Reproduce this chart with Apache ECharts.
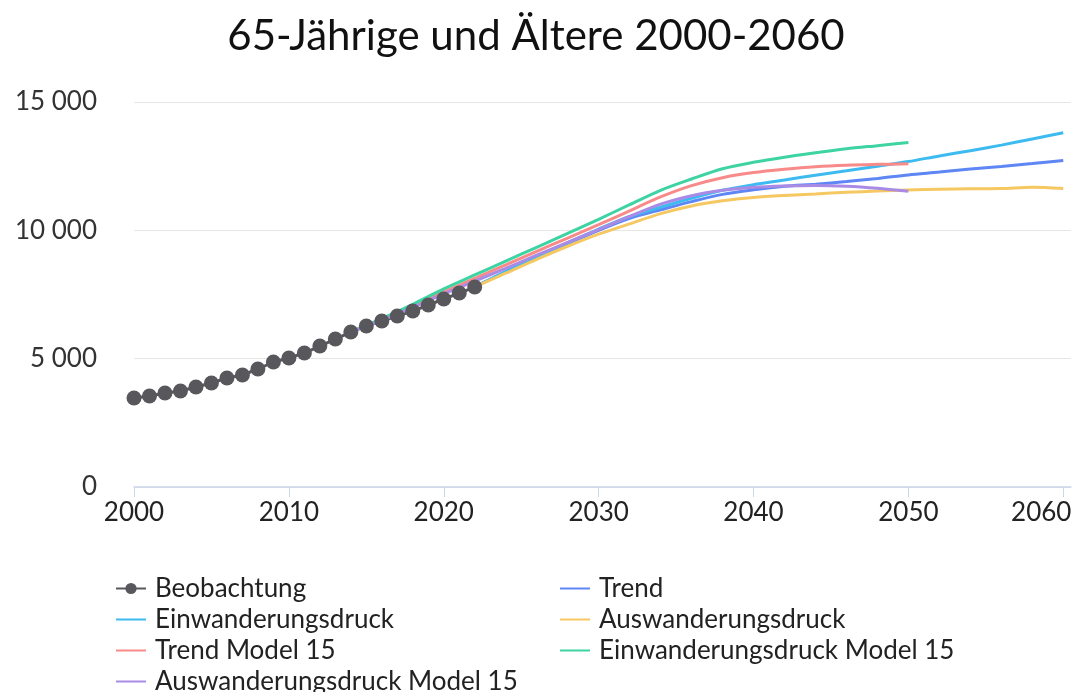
<!DOCTYPE html>
<html>
<head>
<meta charset="utf-8">
<script src="https://cdn.jsdelivr.net/npm/echarts@6/dist/echarts.min.js"></script>
<style>
  html, body { margin: 0; padding: 0; background: #fff; }
  #chart { width: 1072px; height: 692px; }
</style>
</head>
<body>
<div id="chart"></div>
<script>
// observed values
var obsYears = [2000, 2001, 2002, 2003, 2004, 2005, 2006, 2007, 2008, 2009, 2010,
                2011, 2012, 2013, 2014, 2015, 2016, 2017, 2018, 2019, 2020, 2021, 2022];
var obsValues = [3470, 3545, 3660, 3740, 3896, 4051, 4246, 4363, 4597, 4870, 5025,
                 5220, 5493, 5765, 6038, 6272, 6467, 6661, 6856, 7090, 7324, 7557, 7791];

// scenarios from 2022 to 2060
var projYears = [2022, 2024, 2026, 2028, 2030, 2032, 2034, 2036, 2038, 2040,
                 2042, 2044, 2046, 2048, 2050, 2052, 2054, 2056, 2058, 2060];
var trend = [7800, 8380, 8950, 9480, 10000, 10470, 10800, 11120, 11400, 11580,
             11720, 11800, 11900, 12020, 12160, 12270, 12390, 12490, 12600, 12720];
var einw = [7800, 8400, 8980, 9520, 10050, 10540, 10900, 11250, 11560, 11780,
            11960, 12150, 12320, 12500, 12680, 12900, 13100, 13320, 13560, 13800];
var ausw = [7800, 8330, 8870, 9380, 9850, 10250, 10650, 10950, 11150, 11280,
            11360, 11420, 11480, 11530, 11570, 11600, 11620, 11630, 11680, 11630];

// model 15 scenarios from 2014 to 2050
var m15Years = [2014, 2016, 2018, 2020, 2022, 2024, 2026, 2028, 2030, 2032,
                2034, 2036, 2038, 2040, 2042, 2044, 2046, 2048, 2050];
var trend15 = [6040, 6520, 7040, 7600, 8130, 8650, 9180, 9700, 10220, 10760,
               11300, 11740, 12050, 12250, 12380, 12480, 12540, 12570, 12590];
var einw15 = [6040, 6560, 7120, 7720, 8260, 8800, 9340, 9880, 10430, 11000,
              11560, 12000, 12400, 12650, 12850, 13020, 13180, 13300, 13420];
var ausw15 = [6040, 6500, 6990, 7520, 8020, 8520, 9030, 9530, 10030, 10540,
              11020, 11350, 11560, 11680, 11730, 11750, 11720, 11640, 11520];

var xTicks = [2000, 2010, 2020, 2030, 2040, 2050, 2060];

function pairs(xs, ys) {
    return xs.map(function (x, i) { return [x, ys[i]]; });
}

function fmt(v) {
    return String(v).replace(/\B(?=(\d{3})+(?!\d))/g, ' ');
}

// last x label gets an empty spacer behind it so it moves left into the page
function xFmt(v) {
    return v === 2060 ? '{n|' + v + '}{gap|}' : '{n|' + v + '}';
}

function projLine(name, xs, ys, color) {
    return {
        name: name,
        type: 'line',
        data: pairs(xs, ys),
        symbol: 'none',
        smooth: 0.3,
        lineStyle: { color: color, width: 3 },
        itemStyle: { color: color }
    };
}

// legend entry showing only the line, no dot
function lineOnly(name) {
    return { name: name, itemStyle: { opacity: 0 } };
}

var legendText = { fontFamily: 'Lato', fontSize: 26, color: '#222', lineHeight: 31, padding: [0, 0, 0, 4] };

var chart = echarts.init(document.getElementById('chart'));
var option = {
    animation: false,
    textStyle: { fontFamily: 'Lato' },
    title: {
        text: '65-Jährige und Ältere 2000-2060',
        left: 'center',
        top: 10,
        textStyle: { fontFamily: 'Lato', fontSize: 42, fontWeight: 'normal', color: '#111' }
    },
    grid: { left: 134, right: 1, top: 102, bottom: 205, outerBoundsMode: 'none' },
    legend: [
        {
            orient: 'vertical',
            left: 115,
            top: 573,
            height: 140,
            padding: 0,
            itemWidth: 30,
            itemHeight: 14,
            itemGap: 0,
            data: ['Beobachtung', lineOnly('Einwanderungsdruck'), lineOnly('Trend Model 15'),
                   lineOnly('Auswanderungsdruck Model 15')],
            textStyle: legendText
        },
        {
            orient: 'vertical',
            left: 559,
            top: 573,
            height: 140,
            padding: 0,
            itemWidth: 30,
            itemHeight: 14,
            itemGap: 0,
            data: [lineOnly('Trend'), lineOnly('Auswanderungsdruck'), lineOnly('Einwanderungsdruck Model 15')],
            textStyle: legendText
        }
    ],
    xAxis: {
        type: 'value',
        min: 2000,
        max: 2060.5,
        interval: 10,
        axisLine: { lineStyle: { color: '#ccd6eb', width: 1.5 } },
        axisTick: { show: true, length: 10, lineStyle: { color: '#ccd6eb' }, customValues: xTicks },
        axisLabel: {
            customValues: xTicks, fontSize: 26, color: '#222', margin: 13, formatter: xFmt,
            rich: {
                n: { fontFamily: 'Lato', fontSize: 26, color: '#222' },
                gap: { width: 44 }
            }
        },
        splitLine: { show: false }
    },
    yAxis: {
        type: 'value',
        min: 0,
        max: 15000,
        interval: 5000,
        axisLine: { show: false },
        axisTick: { show: false },
        axisLabel: { fontSize: 26, color: '#333', margin: 37, formatter: fmt },
        splitLine: { lineStyle: { color: '#e6e6e6', width: 1 } }
    },
    series: [
        {
            name: 'Beobachtung',
            type: 'line',
            data: pairs(obsYears, obsValues),
            symbol: 'circle',
            symbolSize: 15,
            lineStyle: { color: '#58585c', width: 3 },
            itemStyle: { color: '#58585c' }
        },
        projLine('Trend', projYears, trend, '#5e86f5'),
        projLine('Einwanderungsdruck', projYears, einw, '#3dbbf0'),
        projLine('Auswanderungsdruck', projYears, ausw, '#f6c862'),
        projLine('Trend Model 15', m15Years, trend15, '#f88a8a'),
        projLine('Einwanderungsdruck Model 15', m15Years, einw15, '#3ed3a3'),
        projLine('Auswanderungsdruck Model 15', m15Years, ausw15, '#a98be6')
    ]
};
chart.setOption(option);
</script>
</body>
</html>
